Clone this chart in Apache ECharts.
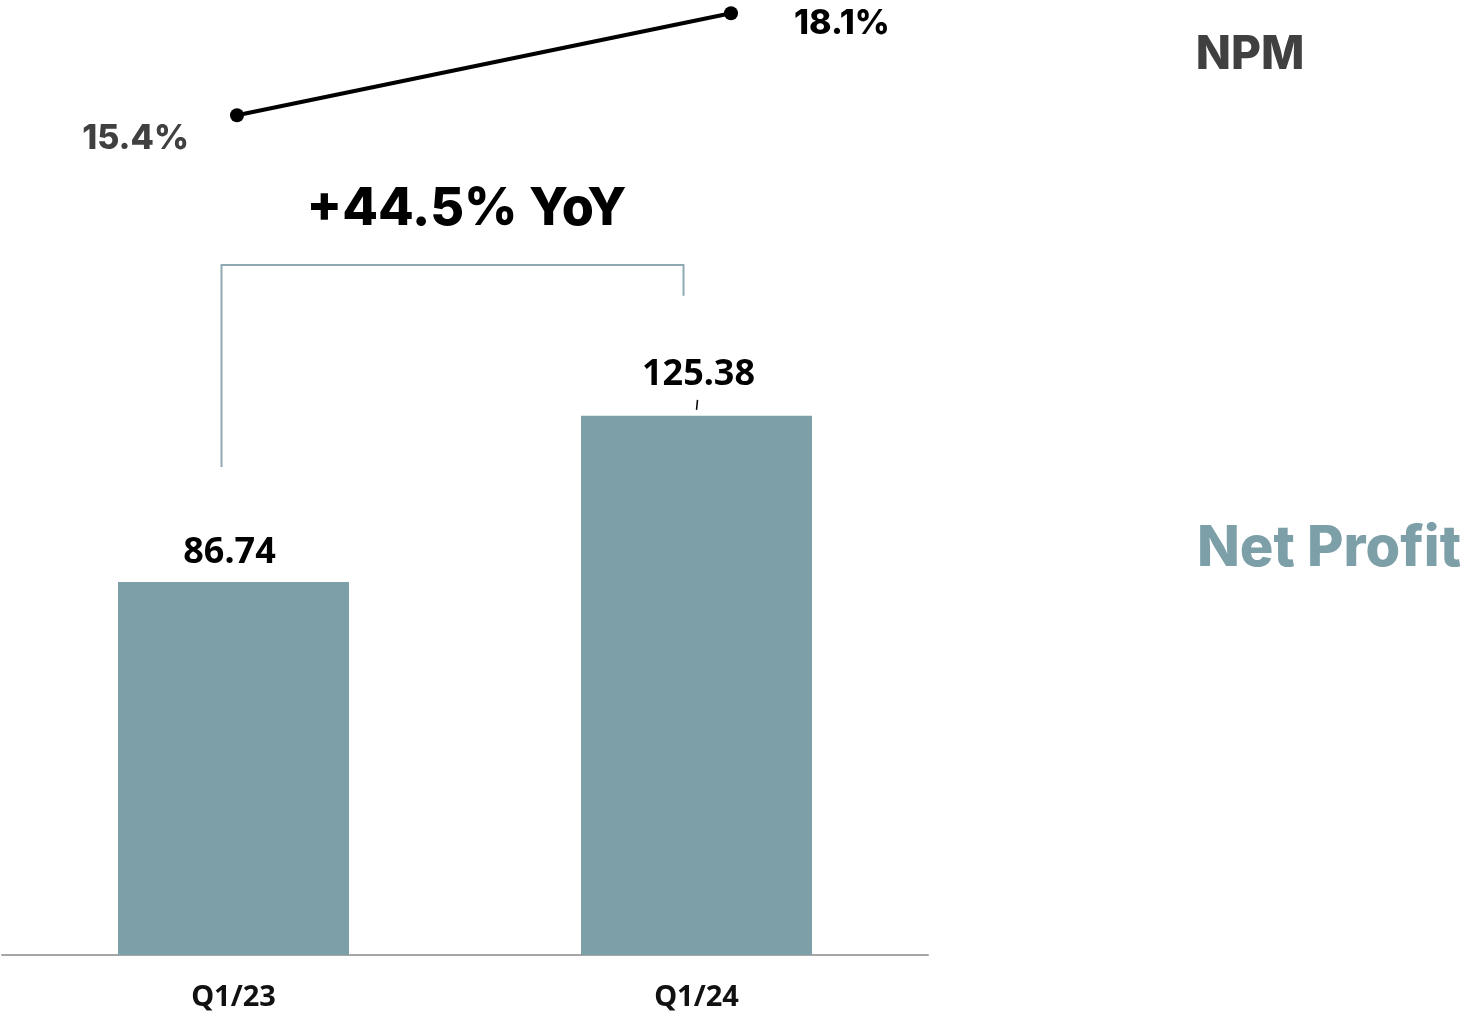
<!DOCTYPE html>
<html><head><meta charset="utf-8">
<script src="https://cdn.jsdelivr.net/npm/echarts@6/dist/echarts.min.js"></script>
<style>html,body{margin:0;padding:0;background:#fff}#c{width:1469px;height:1016px}</style>
</head><body><div id="c"></div>
<script>
const categories = ['Q1/23', 'Q1/24'];
const netProfit = [86.74, 125.38];
const npm = [15.4, 18.1];
const yoyText = '+44.5% YoY';

const TEAL = '#7C9FA8';
const chart = echarts.init(document.getElementById('c'));
chart.setOption({
  animation: false,
  grid: [
    {left: 2, right: 1469 - 928, top: 95, bottom: 61},
    {left: 237, width: 494, top: 0, height: 205.9}
  ],
  xAxis: [
    {gridIndex: 0, type: 'category', data: categories,
     axisLine: {lineStyle: {color: '#A6A6A6', width: 2}}, axisTick: {show: false},
     axisLabel: {color: '#111', fontFamily: 'Noto Sans', fontWeight: 'bold', fontSize: 29, margin: 28}},
    {gridIndex: 1, type: 'category', data: categories, show: false, boundaryGap: false}
  ],
  yAxis: [
    {gridIndex: 0, type: 'value', min: 0, max: 200, show: false, splitLine: {show: false}},
    {gridIndex: 1, type: 'value', min: 13, max: 18.45, show: false, splitLine: {show: false}}
  ],
  series: [
    {type: 'bar', xAxisIndex: 0, yAxisIndex: 0, barWidth: 231,
     itemStyle: {color: TEAL},
     data: netProfit.map((v, i) => ({value: v, label: i === 0 ? {distance: 11, offset: [-4, 0]} : {distance: 23, offset: [2, 0]}})),
     label: {show: true, position: 'top', color: '#000', fontFamily: 'Noto Sans', fontWeight: 'bold', fontSize: 36,
       formatter: p => p.value.toFixed(2)}},
    {type: 'line', xAxisIndex: 1, yAxisIndex: 1, symbol: 'circle', symbolSize: 14,
     lineStyle: {color: '#000', width: 4}, itemStyle: {color: '#000'},
     data: npm.map((v, i) => ({value: v, label: i === 0
       ? {position: 'left', distance: 41, offset: [0, 24], color: '#404040'}
       : {position: 'right', distance: 56, offset: [0, 11], color: '#000'}})),
     label: {show: true, fontFamily: 'Inter', fontWeight: 800, fontSize: 34, formatter: p => p.value.toFixed(1) + '%'}}
  ]
});

const p1 = chart.convertToPixel({xAxisIndex: 0, yAxisIndex: 0}, [0, netProfit[0]]);
const p2 = chart.convertToPixel({xAxisIndex: 0, yAxisIndex: 0}, [1, netProfit[1]]);
const bx1 = p1[0] - 12, bx2 = p2[0] - 13, by = 265;
chart.setOption({
  graphic: [
    {type: 'polyline', shape: {points: [[bx1, p1[1] - 115], [bx1, by], [bx2, by], [bx2, p2[1] - 120]]},
     style: {stroke: '#8FA9B2', lineWidth: 2, fill: null}},
    {type: 'line', shape: {x1: p2[0] + 1, y1: p2[1] - 16, x2: p2[0], y2: p2[1] - 6}, style: {stroke: '#000', lineWidth: 1.5}},
    {type: 'text', x: (bx1 + bx2) / 2 + 14, y: 209, style: {text: yoyText, fill: '#000', font: '800 52px Inter', textAlign: 'center', textVerticalAlign: 'middle'}},
    {type: 'text', x: 1250, y: 55, style: {text: 'NPM', fill: '#404040', font: '800 46px Inter', textAlign: 'center', textVerticalAlign: 'middle'}},
    {type: 'text', x: 1329, y: 549, style: {text: 'Net Profit', fill: TEAL, font: '800 56px Inter', textAlign: 'center', textVerticalAlign: 'middle'}}
  ]
});
</script></body></html>
